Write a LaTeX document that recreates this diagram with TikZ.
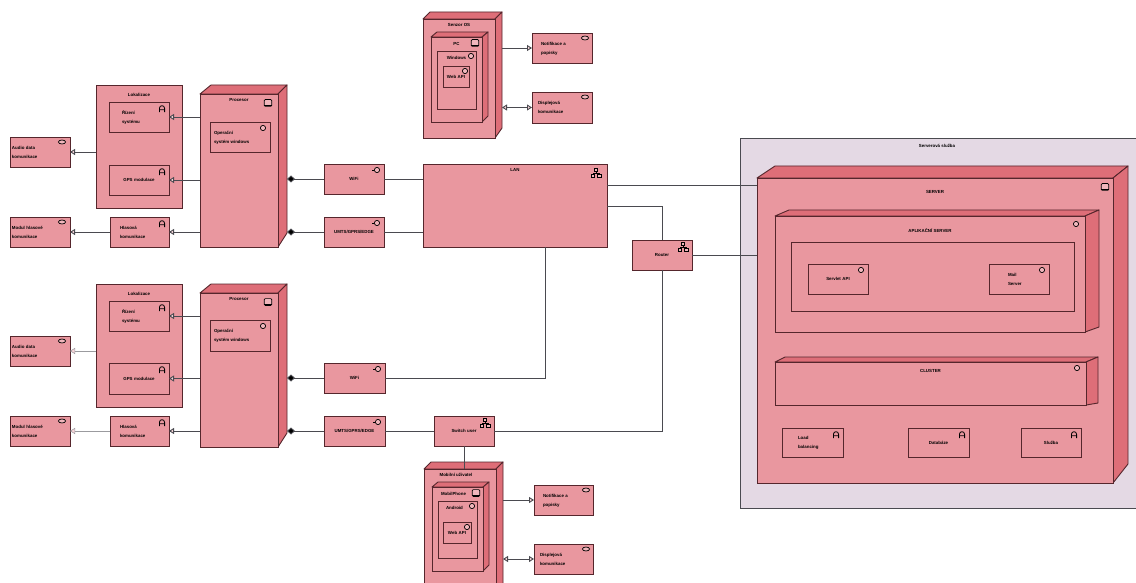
\documentclass[tikz,border=0pt]{standalone}
\usepackage{fontspec}
\setmainfont{Liberation Sans}
\usetikzlibrary{arrows.meta}
\definecolor{bodyc}{HTML}{E9979F}
\definecolor{sidec}{HTML}{DE6E78}
\definecolor{outerc}{HTML}{E4D9E4}
\definecolor{edgec}{HTML}{55262C}
\definecolor{linec}{HTML}{4A4A50}
\tikzset{
  x=1pt,y=-1pt,
  elem/.style={draw=edgec,line width=0.9pt,fill=bodyc,rectangle,inner ysep=0pt,inner xsep=1pt,outer sep=0pt,
    font=\fontsize{4.4}{9}\selectfont\bfseries,text=black},
  lab/.style={font=\fontsize{4.4}{9}\selectfont\bfseries,text=black,inner sep=0pt,anchor=center},
  face/.style={draw=edgec,line width=0.9pt,fill=sidec,line join=round},
  conn/.style={draw=linec,line width=0.9pt},
  thinconn/.style={draw=linec!55,line width=0.5pt},
  opent/.style={-{Triangle[open,length=5pt,width=6pt,fill=bodyc!40]}},
  bothopen/.style={{Triangle[open,length=5pt,width=6pt,fill=bodyc!40]}-{Triangle[open,length=5pt,width=6pt,fill=bodyc!40]}},
  dia/.style={{Diamond[fill=black,length=8pt,width=7pt]}-},
  ico/.style={draw=black,line width=0.7pt,fill=bodyc!70},
}
% centred element
\newcommand\elem[6]{%
  \pgfmathsetmacro\myw{#4-#2}\pgfmathsetmacro\myh{#5-#3}\pgfmathsetmacro\mytw{\myw-2}%
  \pgfmathsetmacro\mycx{(#2+#4)/2}\pgfmathsetmacro\mycy{(#3+#5)/2}%
  \node[elem,text width=\mytw pt,minimum height=\myh pt,align=center] (#1) at (\mycx,\mycy) {#6};}
% left aligned element: #1 pad
\newcommand\eleml[7]{%
  \pgfmathsetmacro\myw{#5-#3}\pgfmathsetmacro\myh{#6-#4}\pgfmathsetmacro\mytw{\myw-2}%
  \pgfmathsetmacro\mycx{(#3+#5)/2}\pgfmathsetmacro\mycy{(#4+#6)/2}%
  \node[elem,text width=\mytw pt,minimum height=\myh pt,align=left] (#2) at (\mycx,\mycy)
    {\hspace*{#1pt}\begin{tabular}[c]{@{}l@{}}#7\end{tabular}};}
% container with title near top: #6 title offset
\newcommand\cont[7]{%
  \pgfmathsetmacro\myw{#4-#2}\pgfmathsetmacro\myh{#5-#3}\pgfmathsetmacro\mytw{\myw-2}%
  \pgfmathsetmacro\mycx{(#2+#4)/2}\pgfmathsetmacro\mycy{(#3+#5)/2}%
  \node[elem,text width=\mytw pt,minimum height=\myh pt,
    label={[lab,name=#1-t,yshift=-#6pt]north:#7}] (#1) at (\mycx,\mycy) {};}
% depth faces: #1 x1 #2 y1 #3 x2 #4 y2 #5 dx right #6 dx left #7 dy #8 bottom rise
\newcommand\faces[8]{%
  \pgfmathsetmacro\xa{#1+#6}\pgfmathsetmacro\xb{#3+#5}\pgfmathsetmacro\yt{#2-#7}\pgfmathsetmacro\yb{#4-#8}%
  \path[face] (#1,#2) -- (\xa,\yt) -- (\xb,\yt) -- (#3,#2) -- cycle;
  \path[face] (#3,#2) -- (\xb,\yt) -- (\xb,\yb) -- (#3,#4) -- cycle;}
% icons
\newcommand\icoat[4]{\begin{scope}[shift={(#1.north east)},shift={(#2,#3)}]#4\end{scope}}
\newcommand\compi[3]{\icoat{#1}{#2}{#3}{\draw[ico] (0,0) circle (2.6);}}
\newcommand\ifacei[3]{\icoat{#1}{#2}{#3}{\draw[draw=black,line width=0.6pt] (-5,0)--(-2.6,0);\draw[ico] (0,0) circle (2.6);}}
\newcommand\roli[3]{\icoat{#1}{#2}{#3}{\draw[draw=black,line width=0.8pt] (-2.6,3.2)--(-2.6,-0.6) .. controls (-2.6,-4.2) and (2.6,-4.2) .. (2.6,-0.6)--(2.6,3.2) (-2.6,0.8)--(2.6,0.8);}}
\newcommand\svci[3]{\icoat{#1}{#2}{#3}{\draw[ico] (0,0) ellipse (3.6 and 2);}}
\newcommand\devi[3]{\icoat{#1}{#2}{#3}{\draw[ico,rounded corners=1pt] (-3.8,-3.4) rectangle (3.8,3.4);\fill[black] (-3.8,1.8) rectangle (3.8,3.4);}}
\newcommand\neti[3]{\icoat{#1}{#2}{#3}{\draw[draw=black,line width=0.6pt] (0,-3)--(0,0)--(-3.2,0)--(-3.2,2) (0,0)--(3.2,0)--(3.2,2);\draw[ico] (-1.5,-5) rectangle (1.5,-2);\draw[ico] (-5,1.5) rectangle (-1.5,4.5);\draw[ico] (1.5,1.5) rectangle (5,4.5);}}
\begin{document}
\begin{tikzpicture}
\clip (0,0) rectangle (1136,583);
\useasboundingbox (0,0) rectangle (1136,583);
\fill[white] (0,0) rectangle (1136,583);

% ----- upper mobile group
\cont{lok1}{96}{85}{182}{208}{10}{Lokalizace}
\eleml{12}{rid1}{109}{102}{169}{132}{Řízení\\systému}
\elem{gps1}{109}{165}{169}{195}{GPS modulace}
\eleml{1}{aud1}{10}{137}{70}{167}{Audio data\\komunikace}
\eleml{1}{mod1}{10}{217}{70}{247}{Modul hlasové\\komunikace}
\eleml{9}{hla1}{110}{217}{169}{247}{Hlasová\\komunikace}
\faces{200}{94}{278}{247}{9}{11}{9}{14}
\cont{pro1}{200}{94}{278}{247}{6}{Procesor}
\eleml{3}{ope1}{210}{122}{270}{152}{Operační\\systém windows}
\devi{pro1}{-10}{9}\compi{ope1}{-7}{6}\roli{rid1}{-7}{7}\roli{gps1}{-7}{7}\roli{hla1}{-7}{7}\svci{aud1}{-8}{5}\svci{mod1}{-8}{5}

% ----- lower mobile group
\cont{lok2}{96}{284}{182}{407}{10}{Lokalizace}
\eleml{12}{rid2}{109}{301}{169}{331}{Řízení\\systému}
\elem{gps2}{109}{363}{169}{394}{GPS modulace}
\eleml{1}{aud2}{10}{336}{70}{366}{Audio data\\komunikace}
\eleml{1}{mod2}{10}{416}{70}{446}{Modul hlasové\\komunikace}
\eleml{9}{hla2}{110}{416}{169}{446}{Hlasová\\komunikace}
\faces{200}{293}{278}{447}{9}{11}{9}{14}
\cont{pro2}{200}{293}{278}{447}{6}{Procesor}
\eleml{3}{ope2}{210}{320}{270}{351}{Operační\\systém windows}
\devi{pro2}{-10}{9}\compi{ope2}{-7}{6}\roli{rid2}{-7}{7}\roli{gps2}{-7}{7}\roli{hla2}{-7}{7}\svci{aud2}{-8}{5}\svci{mod2}{-8}{5}

% ----- networks
\elem{wif1}{324}{164}{384}{194}{WiFi}
\elem{umt1}{324}{217}{384}{247}{UMTS/GPRS/EDGE}
\elem{wif2}{324}{363}{385}{393}{WiFi}
\elem{umt2}{324}{416}{385}{446}{UMTS/GPRS/EDGE}
\cont{lan}{423}{164}{607}{247}{6}{LAN}
\elem{rou}{632}{240}{692}{270}{Router}
\elem{swi}{434}{416}{494}{446}{Switch user}
\ifacei{wif1}{-7}{6}\ifacei{umt1}{-7}{6}\ifacei{wif2}{-7}{6}\ifacei{umt2}{-7}{6}
\neti{lan}{-11}{9}\neti{rou}{-9}{7}\neti{swi}{-9}{7}
\coordinate (lanb) at (545,247);

% ----- top PC group
\faces{423}{19}{495}{138}{7}{7}{7}{10}
\cont{sen}{423}{19}{495}{138}{6}{Senzor OS}
\faces{431}{37}{482}{122}{6}{6}{5}{6}
\cont{pc}{431}{37}{482}{122}{7}{PC}
\cont{win}{437}{51}{476}{109}{7}{Windows}
\elem{api1}{443}{66}{469}{87}{Web API}
\devi{pc}{-7}{6}\compi{win}{-5}{5}\compi{api1}{-4}{5}
\eleml{8}{not1}{532}{33}{592}{63}{Notifikace a\\popisky}
\eleml{5}{dis1}{532}{92}{592}{123}{Displejová\\komunikace}
\svci{not1}{-7}{5}\svci{dis1}{-7}{5}

% ----- bottom phone group
\faces{424}{469}{496}{600}{7}{7}{7}{10}
\cont{mob}{424}{469}{496}{600}{6}{Mobilní uživatel\hspace*{8pt}}
\faces{432}{487}{483}{571}{6}{6}{5}{6}
\cont{pho}{432}{487}{483}{571}{7}{MobilPhone\hspace*{8pt}}
\cont{and}{438}{501}{477}{558}{7}{Android\hspace*{6pt}}
\elem{api2}{443}{522}{471}{543}{Web API}
\devi{pho}{-7}{6}\compi{and}{-5}{5}\compi{api2}{-4}{5}
\eleml{8}{not2}{534}{485}{593}{515}{Notifikace a\\popisky}
\eleml{5}{dis2}{534}{544}{593}{574}{Displejová\\komunikace}
\svci{not2}{-7}{5}\svci{dis2}{-7}{5}

% ----- server side
\node[draw=linec,line width=0.7pt,fill=outerc,minimum width=400pt,minimum height=370pt,inner sep=0pt,outer sep=0pt,
  label={[lab,name=out-t,yshift=-8pt,xshift=-3pt]north:Serverová služba}] (out) at (940,323) {};
\faces{757}{178}{1113}{483}{15}{18}{12}{19}
\cont{srv}{757}{178}{1113}{483}{14}{SERVER}
\devi{srv}{-8}{9}
\faces{775}{216}{1085}{332}{14}{14}{6}{5}
\cont{app}{775}{216}{1085}{332}{15}{APLIKAČNÍ SERVER}
\compi{app}{-9}{8}
\node[draw=edgec,line width=0.6pt,fill=none,minimum width=283pt,minimum height=69pt,inner sep=0pt,outer sep=0pt] (inn) at (932.5,276.5) {};
\elem{sb1}{808}{264}{868}{294}{Servlet API}
\eleml{18}{sb2}{989}{264}{1049}{294}{Mail\\Server}
\compi{sb1}{-7}{6}\compi{sb2}{-7}{6}
\faces{775}{362}{1086}{405}{12}{10}{5}{2}
\cont{clu}{775}{362}{1086}{405}{9}{CLUSTER}
\compi{clu}{-9}{6}
\eleml{15}{lb}{782}{428}{843}{457}{Load\\balancing}
\elem{dat}{908}{428}{969}{457}{Databáze}
\elem{slu}{1021}{428}{1081}{457}{Služba}
\roli{lb}{-7}{7}\roli{dat}{-7}{7}\roli{slu}{-7}{7}

% ----- coordinates on 3D side faces
\coordinate (pro1r) at (287,179);
\coordinate (pro2r) at (287,378);
\coordinate (senr) at (502,48);
\coordinate (mobr) at (503,499);

% ----- connectors upper group
\draw[conn,opent] (pro1.west |- rid1.east) -- (rid1.east);
\draw[conn,opent] (pro1.west |- gps1.east) -- (gps1.east);
\draw[conn,opent] (pro1.west |- hla1.east) -- (hla1.east);
\draw[conn,opent] (hla1.west) -- (mod1.east);
\draw[conn,opent] (lok1.west |- aud1.east) -- (aud1.east);
\draw[conn,dia] (pro1r |- wif1.west) -- (wif1.west);
\draw[conn,dia] (pro1r |- umt1.west) -- (umt1.west);
% ----- connectors lower group
\draw[conn,opent] (pro2.west |- rid2.east) -- (rid2.east);
\draw[conn,opent] (pro2.west |- gps2.east) -- (gps2.east);
\draw[conn,opent] (pro2.west |- hla2.east) -- (hla2.east);
\draw[thinconn,opent] (hla2.west) -- (mod2.east);
\draw[thinconn,opent] (lok2.west |- aud2.east) -- (aud2.east);
\draw[conn,dia] (pro2r |- wif2.west) -- (wif2.west);
\draw[conn,dia] (pro2r |- umt2.west) -- (umt2.west);
% ----- network
\draw[conn] (wif1.east) -- (lan.west |- wif1.east);
\draw[conn] (umt1.east) -- (lan.west |- umt1.east);
\draw[conn] (wif2.east) -| (lanb);
\draw[conn] (umt2.east) -- (swi.west);
\draw[conn] (swi.east) -| (rou.south);
\draw[conn] (swi.south) -- (swi.south |- mob.north);
\draw[conn] (lan.east |- 0,185) -- (srv.west |- 0,185);
\draw[conn] (lan.east |- 0,206) -| (rou.north);
\draw[conn] (rou.east) -- (srv.west |- rou.east);
% ----- phones/PCs
\draw[conn,opent] (senr |- not1.west) -- (not1.west);
\draw[conn,bothopen] (senr |- dis1.west) -- (dis1.west);
\draw[conn,opent] (mobr |- not2.west) -- (not2.west);
\draw[conn,bothopen] (mobr |- dis2.west) -- (dis2.west);
\end{tikzpicture}
\end{document}
